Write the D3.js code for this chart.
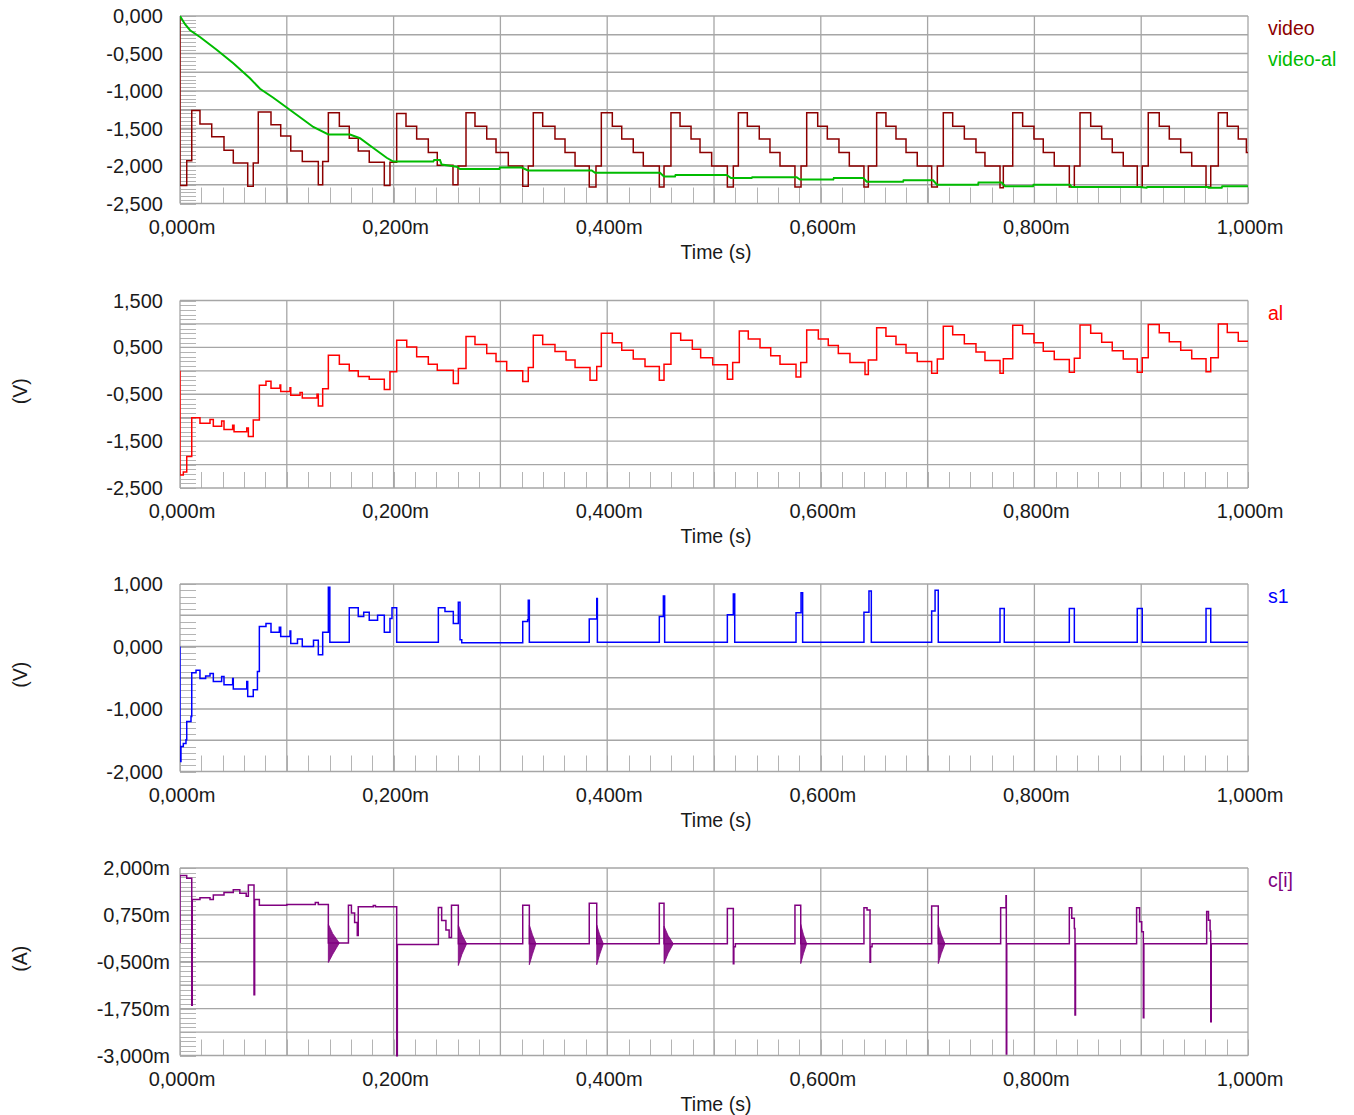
<!DOCTYPE html>
<html>
<head>
<meta charset="utf-8">
<script src="https://cdn.jsdelivr.net/npm/d3@7.9.0/dist/d3.min.js"></script>
<style>
  body { margin: 0; background: #fff; }
  svg { display: block; font-family: "Liberation Sans", Arial, sans-serif; }
</style>
</head>
<body>
<svg id="chart" width="1354" height="1115"></svg>
<script>
// ---- data (time in ms, values in V / mA) ----
const timeTicks = [0, 0.2, 0.4, 0.6, 0.8, 1.0];

const videoTicks = [0, -0.5, -1, -1.5, -2, -2.5];
const alTicks    = [1.5, 0.5, -0.5, -1.5, -2.5];
const s1Ticks    = [1, 0, -1, -2];
const ciTicks    = [2, 0.75, -0.5, -1.75, -3];

// step waveform of "video" : [t, value]
const videoPts = [
  [0,0],[0,-2.26],[0.0063,-1.93],
  [0.011,-1.26],[0.0187,-1.44],[0.0297,-1.61],[0.0412,-1.79],[0.0499,-1.96],[0.0634,-2.27],[0.0686,-1.96],
  [0.0733,-1.28],[0.0852,-1.45],[0.0943,-1.60],[0.1037,-1.80],[0.1145,-1.94],[0.1295,-2.25],[0.1336,-1.94],
  [0.1389,-1.29],[0.1492,-1.47],[0.1585,-1.63],[0.1669,-1.80],[0.1772,-1.95],[0.1913,-2.26],[0.1966,-1.95],
  [0.2029,-1.30],[0.2116,-1.47],[0.2216,-1.64],[0.2325,-1.82],[0.2409,-1.99],[0.2556,-2.25],[0.2603,-2.00],
  [0.2678,-1.29],[0.2762,-1.47],[0.2872,-1.64],[0.2959,-1.82],[0.3074,-2.00],[0.3209,-2.27],[0.3261,-2.00],
  [0.3308,-1.29],[0.3396,-1.47],[0.3511,-1.64],[0.3605,-1.82],[0.3699,-2.00],[0.3832,-2.28],[0.3895,-2.00],
  [0.3945,-1.29],[0.4048,-1.47],[0.4136,-1.64],[0.4244,-1.82],[0.4338,-2.00],[0.4488,-2.28],[0.4532,-2.00],
  [0.4597,-1.29],[0.4682,-1.47],[0.4785,-1.64],[0.4869,-1.82],[0.4978,-2.00],[0.5125,-2.28],[0.5181,-2.00],
  [0.5228,-1.29],[0.5312,-1.47],[0.5424,-1.64],[0.5524,-1.82],[0.5618,-2.00],[0.5758,-2.28],[0.5815,-2.00],
  [0.5868,-1.29],[0.5971,-1.47],[0.6061,-1.64],[0.6170,-1.82],[0.6267,-2.00],[0.6404,-2.28],[0.6445,-2.00],
  [0.6523,-1.29],[0.6610,-1.47],[0.6704,-1.64],[0.6798,-1.82],[0.6903,-2.00],[0.7038,-2.28],[0.7091,-2.00],
  [0.7147,-1.29],[0.7235,-1.47],[0.7344,-1.64],[0.7453,-1.82],[0.7537,-2.00],[0.7678,-2.29],[0.7709,-2.00],
  [0.7797,-1.29],[0.7890,-1.47],[0.7996,-1.64],[0.8083,-1.82],[0.8186,-2.00],[0.8327,-2.28],[0.8374,-2.00],
  [0.8427,-1.29],[0.8527,-1.47],[0.8630,-1.64],[0.8729,-1.82],[0.8832,-2.00],[0.8963,-2.28],[0.9010,-2.00],
  [0.9066,-1.29],[0.9169,-1.47],[0.9263,-1.64],[0.9370,-1.82],[0.9473,-2.00],[0.9607,-2.28],[0.9651,-2.00],
  [0.9722,-1.29],[0.9806,-1.47],[0.9909,-1.64],[0.9985,-1.82],[1.0,-1.82]
];

// "video-al" (slow settling, drawn linear)
const videoAlPts = [
  [0,0],[0.0047,-0.11],[0.0094,-0.19],[0.0187,-0.28],[0.0343,-0.45],[0.0499,-0.63],[0.0655,-0.83],
  [0.0749,-0.97],[0.0874,-1.09],[0.0999,-1.22],[0.1124,-1.35],[0.1248,-1.48],[0.1389,-1.58],[0.1592,-1.58],
  [0.1685,-1.63],[0.181,-1.76],[0.1935,-1.89],[0.1997,-1.94],[0.2372,-1.94],[0.238,-1.92],[0.2434,-1.92],
  [0.245,-1.98],[0.2591,-2.01],[0.2622,-2.04],[0.2990,-2.04],[0.2995,-2.02],[0.3199,-2.02],[0.3258,-2.06],
  [0.3855,-2.06],[0.3886,-2.09],[0.4494,-2.09],[0.4532,-2.14],[0.4635,-2.14],[0.4640,-2.12],[0.5119,-2.12],
  [0.5159,-2.16],[0.5353,-2.16],[0.5358,-2.15],[0.5774,-2.15],[0.5805,-2.18],[0.6117,-2.18],[0.6122,-2.16],
  [0.6398,-2.16],[0.6430,-2.21],[0.6770,-2.21],[0.6775,-2.19],[0.7051,-2.19],[0.7088,-2.25],[0.7472,-2.25],
  [0.7477,-2.22],[0.7694,-2.22],[0.7725,-2.27],[0.7987,-2.27],[0.7992,-2.25],[0.8333,-2.25],[0.8349,-2.28],
  [0.8989,-2.28],[0.9051,-2.29],[0.9056,-2.28],[0.9625,-2.28],[0.963,-2.29],[0.9754,-2.29],[0.9759,-2.27],
  [1,-2.27]
];

// "al" step waveform
const alPts = [
  [0,0],[0,-2.22],[0.0031,-2.16],[0.0063,-1.83],[0.011,-1.0],
  [0.0187,-1.12],[0.0281,-1.04],[0.0312,-1.18],[0.039,-1.07],[0.0412,-1.25],[0.0493,-1.16],[0.0506,-1.30],
  [0.0625,-1.22],[0.064,-1.40],[0.0686,-1.05],
  [0.0743,-0.31],[0.0805,-0.22],[0.0852,-0.37],[0.0936,-0.30],[0.0943,-0.44],[0.103,-0.36],[0.1037,-0.52],
  [0.1124,-0.46],[0.1145,-0.58],[0.1283,-0.50],[0.1295,-0.75],[0.1336,-0.38],
  [0.1389,0.33],[0.1492,0.14],[0.1585,0.0],[0.1669,-0.12],[0.1772,-0.18],[0.1913,-0.40],[0.1966,-0.02],
  [0.2029,0.65],[0.2123,0.51],[0.2216,0.30],[0.2325,0.14],[0.2409,0.01],[0.2559,-0.27],[0.2606,0.05],
  [0.2678,0.73],[0.2762,0.56],[0.2872,0.37],[0.2959,0.20],[0.3059,0.0],[0.3209,-0.23],[0.3261,0.07],
  [0.3308,0.76],[0.3396,0.56],[0.3511,0.41],[0.3614,0.23],[0.3699,0.07],[0.3839,-0.20],[0.3902,0.09],
  [0.3945,0.80],[0.4048,0.60],[0.4136,0.44],[0.4244,0.25],[0.4354,0.09],[0.4488,-0.20],[0.4532,0.14],
  [0.4597,0.80],[0.4688,0.65],[0.4797,0.46],[0.4875,0.28],[0.4988,0.13],[0.5125,-0.18],[0.5175,0.18],
  [0.5237,0.85],[0.5321,0.68],[0.5431,0.49],[0.5531,0.32],[0.5618,0.14],[0.5768,-0.13],[0.5812,0.18],
  [0.5868,0.87],[0.5977,0.68],[0.6070,0.54],[0.6164,0.37],[0.6273,0.18],[0.6414,-0.08],[0.6445,0.23],
  [0.6523,0.92],[0.6610,0.74],[0.6704,0.56],[0.6798,0.38],[0.6903,0.20],[0.7038,-0.05],[0.7091,0.25],
  [0.7147,0.95],[0.7235,0.77],[0.7344,0.58],[0.7453,0.40],[0.7537,0.22],[0.7678,-0.05],[0.7709,0.26],
  [0.7797,0.97],[0.7890,0.79],[0.7996,0.60],[0.8083,0.42],[0.8186,0.24],[0.8327,-0.03],[0.8374,0.27],
  [0.8427,0.98],[0.8527,0.80],[0.8630,0.61],[0.8729,0.43],[0.8832,0.25],[0.8963,-0.03],[0.9010,0.28],
  [0.9066,0.99],[0.9169,0.81],[0.9263,0.62],[0.9370,0.44],[0.9473,0.26],[0.9607,-0.02],[0.9651,0.28],
  [0.9722,1.0],[0.9806,0.82],[0.9909,0.63],[1.0,0.63]
];

// "s1" step waveform
const s1Pts = [
  [0,0],[0,-1.84],[0.0009,-1.60],[0.0031,-1.55],[0.0056,-1.49],[0.0063,-1.2],[0.0103,-1.12],
  [0.011,-0.42],[0.015,-0.38],[0.0187,-0.51],[0.024,-0.47],[0.0281,-0.43],[0.0312,-0.56],[0.039,-0.48],
  [0.0412,-0.61],[0.0493,-0.51],[0.0499,-0.68],[0.0625,-0.56],[0.0634,-0.80],[0.0686,-0.69],[0.0725,-0.40],
  [0.0743,0.32],[0.0805,0.37],[0.0852,0.23],[0.093,0.31],[0.0943,0.16],[0.103,0.25],[0.1037,0.05],
  [0.11,0.12],[0.1145,0.0],[0.125,0.10],[0.1295,-0.13],[0.1336,0.23],[0.1389,0.95],[0.1403,0.07],
  [0.1585,0.62],[0.1669,0.48],[0.172,0.55],[0.1772,0.42],[0.185,0.50],[0.1913,0.23],[0.1966,0.45],
  [0.1985,0.62],[0.2029,0.07],
  [0.2419,0.62],[0.2481,0.56],[0.2559,0.37],[0.2606,0.71],[0.2622,0.11],[0.2638,0.06],
  [0.3209,0.40],[0.3255,0.43],[0.3261,0.74],[0.3271,0.07],
  [0.3832,0.44],[0.3902,0.77],[0.3908,0.07],
  [0.4488,0.48],[0.4526,0.81],[0.4538,0.07],
  [0.5125,0.51],[0.5181,0.84],[0.5194,0.07],
  [0.5768,0.54],[0.5815,0.86],[0.5830,0.07],
  [0.6404,0.55],[0.6451,0.89],[0.6473,0.07],
  [0.7038,0.57],[0.7070,0.90],[0.7100,0.07],
  [0.7678,0.61],[0.7718,0.07],
  [0.8327,0.61],[0.8374,0.07],
  [0.8963,0.61],[0.9010,0.07],
  [0.9607,0.61],[0.9651,0.07],
  [1,0.07]
];

// "c[i]" step waveform (mA)
const ciPts = [
  [0,0],[0,1.8],[0.0063,1.73],[0.011,-1.66],[0.0115,1.16],[0.0187,1.21],[0.0281,1.16],[0.0312,1.28],
  [0.0412,1.35],[0.0499,1.42],[0.056,1.33],[0.062,1.25],[0.064,1.55],[0.0693,-1.38],[0.0699,1.16],
  [0.0743,1.01],[0.1,1.03],[0.1267,1.08],[0.1295,1.03],[0.1389,0.0],
  [0.1577,1.01],[0.1605,0.8],[0.1635,0.55],[0.1660,0.2],[0.1669,0.97],[0.181,1.0],[0.1830,0.97],
  [0.2029,-3.05],[0.2035,-0.04],
  [0.2419,0.95],[0.2450,0.6],[0.2490,0.35],[0.2520,0.15],[0.2542,1.01],[0.2606,-0.02],
  [0.3209,1.01],[0.3271,-0.02],
  [0.3832,1.06],[0.3902,-0.02],
  [0.4488,1.06],[0.4532,-0.02],
  [0.5125,0.92],[0.5181,-0.55],[0.5186,-0.1],[0.5200,-0.02],
  [0.5758,1.01],[0.5812,-0.02],
  [0.6404,0.94],[0.6433,0.88],[0.6461,-0.51],[0.6466,-0.1],[0.6480,-0.02],
  [0.7038,0.99],[0.7100,-0.02],
  [0.7684,0.94],[0.7734,1.26],[0.7737,-2.96],[0.7741,-0.02],
  [0.8327,0.94],[0.8350,0.66],[0.8374,0.39],[0.8380,-1.92],[0.8385,-0.02],
  [0.8957,0.94],[0.8985,0.57],[0.9005,0.30],[0.9020,-1.99],[0.9025,-0.02],
  [0.9613,0.84],[0.9630,0.61],[0.9645,0.32],[0.9651,-2.10],[0.9656,-0.02],
  [1,-0.02]
];

// ringing bursts on c[i]: [t, upper, lower]
const ciRinging = [
  [[0.1389,0.50,-0.52],[0.1430,0.25,-0.30],[0.1492,0.0,0.0]],
  [[0.2606,0.48,-0.60],[0.2640,0.22,-0.30],[0.2684,-0.02,-0.02]],
  [[0.3271,0.48,-0.58],[0.3300,0.22,-0.30],[0.3333,-0.02,-0.02]],
  [[0.3902,0.48,-0.58],[0.3930,0.22,-0.30],[0.3964,-0.02,-0.02]],
  [[0.4532,0.45,-0.55],[0.4570,0.20,-0.28],[0.4619,-0.02,-0.02]],
  [[0.5812,0.50,-0.55],[0.5838,0.22,-0.28],[0.5868,-0.02,-0.02]],
  [[0.7100,0.48,-0.55],[0.7128,0.22,-0.28],[0.7163,-0.02,-0.02]]
];

// ---- layout ----
const svg = d3.select("#chart");
const plotLeft = 180, plotRight = 1248, plotH = 187.5;
const gridColor = "#a6a6a6";

const fmtLocale = d3.formatLocale({decimal: ",", thousands: ".", grouping: [3], currency: ["", ""], minus: "-"});
const f3 = fmtLocale.format(".3f");

const panels = [
  { top: 16,  domain: [-2.5, 0],  ticks: videoTicks, grid: 0.25,  unit: "",    suffix: "",  labelX: 163,
    series: [ {pts: videoPts, color: "#8c0000", step: true}, {pts: videoAlPts, color: "#00bb00", step: false} ],
    legend: [ {text: "video", color: "#8c0000"}, {text: "video-al", color: "#00bb00"} ] },
  { top: 300.5, domain: [-2.5, 1.5], ticks: alTicks, grid: 0.5, unit: "(V)", suffix: "", labelX: 163,
    series: [ {pts: alPts, color: "#ff0000", step: true} ],
    legend: [ {text: "al", color: "#ff0000"} ] },
  { top: 584, domain: [-2, 1], ticks: s1Ticks, grid: 0.5, unit: "(V)", suffix: "", labelX: 163,
    series: [ {pts: s1Pts, color: "#0000ff", step: true} ],
    legend: [ {text: "s1", color: "#0000ff"} ] },
  { top: 868, domain: [-3, 2], ticks: ciTicks, grid: 0.625, unit: "(A)", suffix: "m", labelX: 170,
    series: [ {pts: ciPts, color: "#800080", step: true} ],
    legend: [ {text: "c[i]", color: "#800080"} ], ringing: ciRinging }
];

const x = d3.scaleLinear().domain([0, 1]).range([plotLeft, plotRight]);

panels.forEach((p, i) => {
  const y = d3.scaleLinear().domain(p.domain).range([p.top + plotH, p.top]);
  const bottom = p.top + plotH;
  const g = svg.append("g").attr("class", "panel");

  // clip
  const clipId = "clip" + i;
  svg.append("clipPath").attr("id", clipId)
    .append("rect").attr("x", plotLeft).attr("y", p.top - 1)
    .attr("width", plotRight - plotLeft).attr("height", plotH + 2);

  // minor ticks (left + bottom)
  const minorY = d3.range(p.domain[0], p.domain[1] + 1e-9, p.grid / 5);
  g.selectAll("line.minorY").data(minorY).enter().append("line")
    .attr("x1", plotLeft).attr("x2", plotLeft + 16)
    .attr("y1", d => Math.round(y(d)) + 0.5).attr("y2", d => Math.round(y(d)) + 0.5)
    .attr("stroke", "#b4b4b4").attr("stroke-width", 1);
  const minorX = d3.range(0, 1.0001, 0.02);
  g.selectAll("line.minorX").data(minorX).enter().append("line")
    .attr("x1", d => Math.round(x(d)) + 0.5).attr("x2", d => Math.round(x(d)) + 0.5)
    .attr("y1", bottom).attr("y2", bottom - 16)
    .attr("stroke", "#b4b4b4").attr("stroke-width", 1);

  // grid
  const gridY = d3.range(p.domain[0], p.domain[1] + 1e-9, p.grid);
  g.selectAll("line.gy").data(gridY).enter().append("line")
    .attr("x1", plotLeft).attr("x2", plotRight)
    .attr("y1", d => y(d)).attr("y2", d => y(d))
    .attr("stroke", gridColor).attr("stroke-width", 1.3);
  const gridX = d3.range(0, 1.0001, 0.1);
  g.selectAll("line.gx").data(gridX).enter().append("line")
    .attr("x1", d => x(d)).attr("x2", d => x(d))
    .attr("y1", p.top).attr("y2", bottom)
    .attr("stroke", gridColor).attr("stroke-width", 1.3);

  // y tick labels
  g.selectAll("text.yt").data(p.ticks).enter().append("text")
    .attr("x", p.labelX).attr("y", d => y(d) + 7)
    .attr("text-anchor", "end").attr("font-size", 20).attr("fill", "#1a1a1a")
    .text(d => f3(d) + p.suffix);

  // x tick labels
  g.selectAll("text.xt").data(timeTicks).enter().append("text")
    .attr("x", d => x(d) + 2).attr("y", bottom + 30)
    .attr("text-anchor", "middle").attr("font-size", 20).attr("fill", "#1a1a1a")
    .text(d => f3(d) + "m");

  g.append("text").attr("x", 716).attr("y", bottom + 55)
    .attr("text-anchor", "middle").attr("font-size", 19.5).attr("fill", "#1a1a1a")
    .text("Time (s)");

  if (p.unit) {
    g.append("text")
      .attr("transform", `translate(27,${p.top + plotH / 2 - 3}) rotate(-90)`)
      .attr("text-anchor", "middle").attr("font-size", 19.5).attr("fill", "#1a1a1a")
      .text(p.unit);
  }

  // ringing areas
  const plot = g.append("g").attr("clip-path", `url(#${clipId})`);
  if (p.ringing) {
    const area = d3.area().x(d => x(d[0])).y0(d => y(d[2])).y1(d => y(d[1]));
    plot.selectAll("path.ring").data(p.ringing).enter().append("path")
      .attr("d", area).attr("fill", p.series[0].color).attr("fill-opacity", 0.9)
      .attr("stroke", p.series[0].color).attr("stroke-width", 0.8);
  }

  // series
  p.series.forEach(s => {
    const line = d3.line().x(d => x(d[0])).y(d => y(d[1]))
      .curve(s.step ? d3.curveStepAfter : d3.curveLinear);
    plot.append("path").datum(s.pts)
      .attr("d", line).attr("fill", "none")
      .attr("stroke", s.color).attr("stroke-width", s.step ? 1.5 : 2);
  });

  // legend
  g.selectAll("text.leg").data(p.legend).enter().append("text")
    .attr("x", 1268).attr("y", (d, k) => p.top + 19 + k * 31)
    .attr("font-size", 19.5).attr("fill", d => d.color)
    .text(d => d.text);
});
</script>
</body>
</html>
